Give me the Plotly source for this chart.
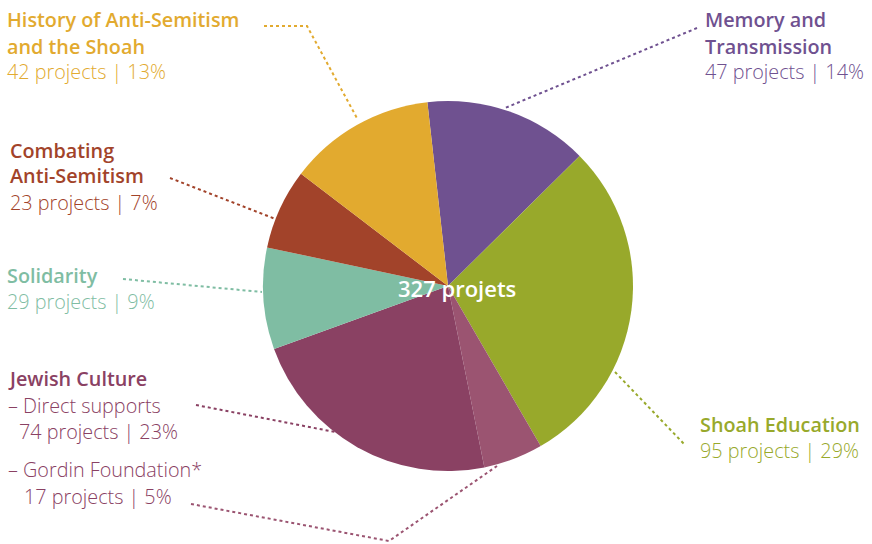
import plotly.graph_objects as go

W, H = 872, 544

categories = ["Memory and Transmission", "Shoah Education", "Jewish Culture – Gordin Foundation",
              "Jewish Culture – Direct supports", "Solidarity", "Combating Anti-Semitism",
              "History of Anti-Semitism and the Shoah"]
projects = [47, 95, 17, 74, 29, 23, 42]
percents = [14, 29, 5, 23, 9, 7, 13]
colors = ["#6F5190", "#98A92B", "#9B5471", "#8A4163", "#7FBDA3", "#A2432A", "#E2AA2F"]
total_label = "327 projets"

FONT = "Open Sans"

cx, cy, r = 448, 286, 185

fig = go.Figure(go.Pie(
    labels=categories, values=projects, sort=False, direction="clockwise",
    rotation=-6.4, marker=dict(colors=colors, line=dict(width=0)),
    textinfo="none", hoverinfo="label+value", showlegend=False,
    domain=dict(x=[(cx - r) / W, (cx + r) / W], y=[(H - cy - r) / H, (H - cy + r) / H]),
))

def px(x):
    return x / W

def py(y):
    return 1 - y / H

annotations = []

def txt(x, y, text, color, bold=False, size=19.8):
    annotations.append(dict(
        x=px(x), y=py(y), xref="paper", yref="paper", text=text, showarrow=False,
        xanchor="left", yanchor="middle",
        font=dict(family=FONT, size=size, color=color, weight=600 if bold else 300),
    ))

c_mem, c_edu, c_gor, c_jc, c_sol, c_com, c_his = colors

# History
txt(5, 20, "History of Anti-Semitism", c_his, True)
txt(5, 46, "and the Shoah", c_his, True)
txt(5, 72, f"{projects[6]} projects | {percents[6]}%", c_his)
# Memory
txt(703, 20, "Memory and", c_mem, True)
txt(703, 46, "Transmission", c_mem, True)
txt(703, 72, f"{projects[0]} projects | {percents[0]}%", c_mem)
# Combating
txt(8, 150, "Combating", c_com, True)
txt(8, 176, "Anti-Semitism", c_com, True)
txt(8, 202, f"{projects[5]} projects | {percents[5]}%", c_com)
# Solidarity
txt(5, 275, "Solidarity", c_sol, True)
txt(5, 301, f"{projects[4]} projects | {percents[4]}%", c_sol)
# Jewish Culture
txt(6, 378, "Jewish Culture", c_jc, True)
txt(6, 405, "– Direct supports", c_jc)
txt(17, 431, f"{projects[3]} projects | {percents[3]}%", c_jc)
txt(6, 469, "– Gordin Foundation*", c_jc)
txt(22, 496, f"{projects[2]} projects | {percents[2]}%", c_jc)
# Shoah Education
txt(698, 424, "Shoah Education", c_edu, True)
txt(698, 450, f"{projects[1]} projects | {percents[1]}%", c_edu)

# Center label
annotations.append(dict(x=px(457), y=py(288), xref="paper", yref="paper", text=total_label,
                        showarrow=False, xanchor="center", yanchor="middle",
                        font=dict(family=FONT, size=22, color="white", weight=600)))

shapes = []

def leader(points, color):
    path = "M " + " L ".join(f"{px(x)},{py(y)}" for x, y in points)
    shapes.append(dict(type="path", xref="paper", yref="paper", path=path,
                       line=dict(color=color, width=2, dash="dot")))

leader([(264, 26), (307, 26), (358, 120)], c_his)
leader([(697, 28), (505, 108)], c_mem)
leader([(170, 178), (278, 220)], c_com)
leader([(123, 279), (262, 292)], c_sol)
leader([(196, 405), (335, 432)], c_jc)
leader([(191, 504), (389, 541), (497, 466)], c_gor)
leader([(615, 372), (685, 445)], c_edu)

fig.update_layout(
    width=W, height=H, margin=dict(l=0, r=0, t=0, b=0),
    paper_bgcolor="white", plot_bgcolor="white",
    annotations=annotations, shapes=shapes,
)

fig.write_html("out.html", config={"displayModeBar": False},
               post_script="document.body.style.margin='0';document.body.style.overflow='hidden';")
